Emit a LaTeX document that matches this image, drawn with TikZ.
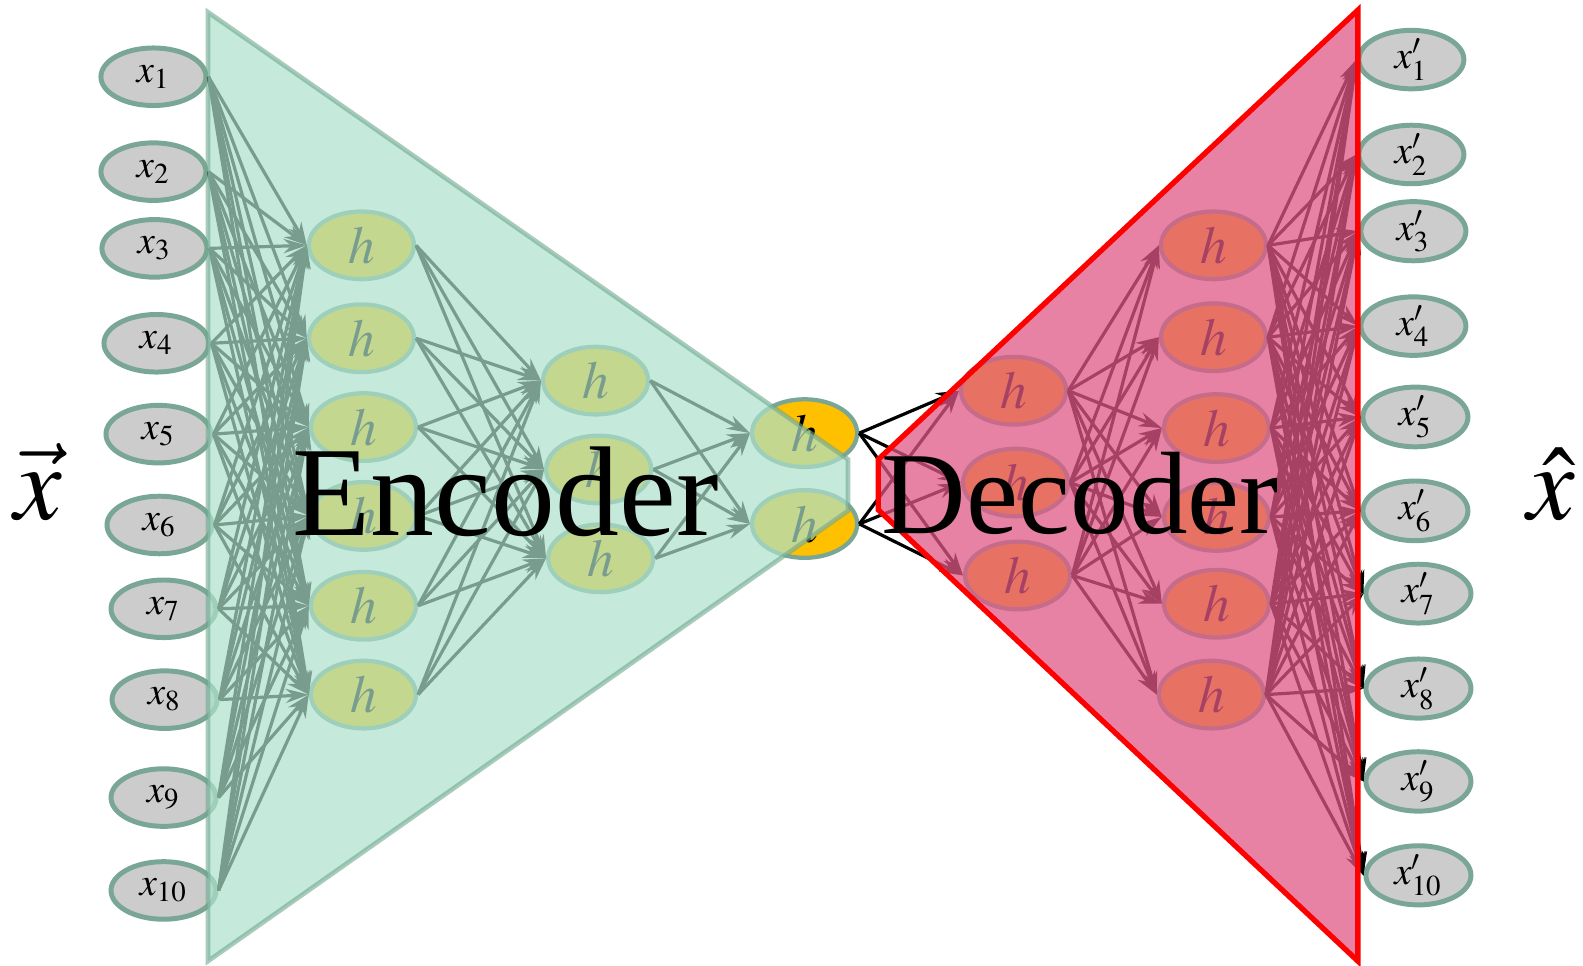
\documentclass[tikz,border=0pt]{standalone}
\usepackage{mathptmx}
\usepackage{fontspec}
\setmainfont{Liberation Serif}
\usetikzlibrary{arrows.meta, shapes.geometric}
\definecolor{xgray}{HTML}{CCCCCC}
\definecolor{rim}{HTML}{7AA795}
\definecolor{unit}{HTML}{FFC000}
\definecolor{encfill}{HTML}{ACE1CC}
\definecolor{encrim}{HTML}{6FA88F}
\definecolor{decfill}{HTML}{E05886}

\begin{document}
\begin{tikzpicture}[x=0.01cm, y=-0.01cm, ->, >={Stealth[length=6.5pt, width=4pt]}, line width=0.9pt,
    xnode/.style={ellipse, draw=rim, line width=1.4pt, fill=xgray, inner sep=0pt,
        minimum width=1.04cm, minimum height=0.57cm, font=\fontsize{11}{13}\selectfont},
    hnode/.style={ellipse, draw=rim, line width=1.2pt, fill=unit, inner sep=0pt,
        minimum width=1.04cm, minimum height=0.67cm, font=\fontsize{15}{17}\selectfont}]
    \useasboundingbox (0,0) rectangle (1568,956);
    % input units
    \node[xnode] (x1) at (152,76) {$x_{1}$};
    \node[xnode] (x2) at (152,170) {$x_{2}$};
    \node[xnode] (x3) at (153,246) {$x_{3}$};
    \node[xnode] (x4) at (155,340) {$x_{4}$};
    \node[xnode] (x5) at (157,430) {$x_{5}$};
    \node[xnode] (x6) at (158,520) {$x_{6}$};
    \node[xnode] (x7) at (162,603) {$x_{7}$};
    \node[xnode] (x8) at (163,693) {$x_{8}$};
    \node[xnode] (x9) at (162,790) {$x_{9}$};
    \node[xnode] (x10) at (162,882) {$x_{10}$};
    % encoder layers
    \node[hnode] (a1) at (358,243) {$h$};
    \node[hnode] (a2) at (358,335) {$h$};
    \node[hnode] (a3) at (360,423) {$h$};
    \node[hnode] (a4) at (360,511) {$h$};
    \node[hnode] (a5) at (360,600) {$h$};
    \node[hnode] (a6) at (360,688) {$h$};
    \node[hnode] (b1) at (590,377) {$h$};
    \node[hnode] (b2) at (593,465) {$h$};
    \node[hnode] (b3) at (595,553) {$h$};
    % code
    \node[hnode] (z1) at (797,429) {$h$};
    \node[hnode] (z2) at (797,519) {$h$};
    % decoder layers
    \node[hnode] (c1) at (1004,387) {$h$};
    \node[hnode] (c2) at (1006,478) {$h$};
    \node[hnode] (c3) at (1008,570) {$h$};
    \node[hnode] (d1) at (1202,243) {$h$};
    \node[hnode] (d2) at (1202,334) {$h$};
    \node[hnode] (d3) at (1205,424) {$h$};
    \node[hnode] (d4) at (1205,512) {$h$};
    \node[hnode] (d5) at (1205,598) {$h$};
    \node[hnode] (d6) at (1200,688) {$h$};
    % reconstructed units
    \node[xnode] (y1) at (1398,59) {$x'_{1}$};
    \node[xnode] (y2) at (1398,153) {$x'_{2}$};
    \node[xnode] (y3) at (1400,229) {$x'_{3}$};
    \node[xnode] (y4) at (1400,323) {$x'_{4}$};
    \node[xnode] (y5) at (1402,413) {$x'_{5}$};
    \node[xnode] (y6) at (1402,506) {$x'_{6}$};
    \node[xnode] (y7) at (1405,588) {$x'_{7}$};
    \node[xnode] (y8) at (1405,682) {$x'_{8}$};
    \node[xnode] (y9) at (1405,774) {$x'_{9}$};
    \node[xnode] (y10) at (1405,867) {$x'_{10}$};
    % weights, every unit to every unit of the next layer
    \foreach \i in {1,...,10} \foreach \j in {1,...,6} \path (x\i.east) edge (a\j.west);
    \foreach \i in {1,...,6} \foreach \j in {1,...,3} \path (a\i.east) edge (b\j.west);
    \foreach \i in {1,...,3} \foreach \j in {1,2} \path (b\i.east) edge (z\j.west);
    \foreach \i in {1,2} \foreach \j in {1,...,3} \path (z\i.east) edge (c\j.west);
    \foreach \i in {1,...,3} \foreach \j in {1,...,6} \path (c\i.east) edge (d\j.west);
    \foreach \i in {1,...,6} \foreach \j in {1,...,10} \path (d\i.east) edge (y\j.west);
    % tinted halves on top
    \path[fill=encfill, fill opacity=0.7, draw=encrim, draw opacity=0.6, line width=1.3pt]
        (206,12) -- (840,455) -- (840,506) -- (206,952) -- cycle;
    \path[fill=decfill, fill opacity=0.75, draw=red, line width=1.5pt]
        (1345,10) -- (870,455) -- (870,505) -- (1345,952) -- cycle;
    % titles
    \node[anchor=base, font=\fontsize{36}{40}\selectfont] (enc) at (501,530) {Encoder};
    \node[anchor=base, font=\fontsize{33}{36}\selectfont] (dec) at (1070,528) {Decoder};
    \node[anchor=base, font=\fontsize{30}{34}\selectfont] (vin) at (38,515) {$\vec{x}$};
    \node[anchor=base, font=\fontsize{30}{34}\selectfont] (vout) at (1537,515) {$\hat{x}$};
\end{tikzpicture}
\end{document}
